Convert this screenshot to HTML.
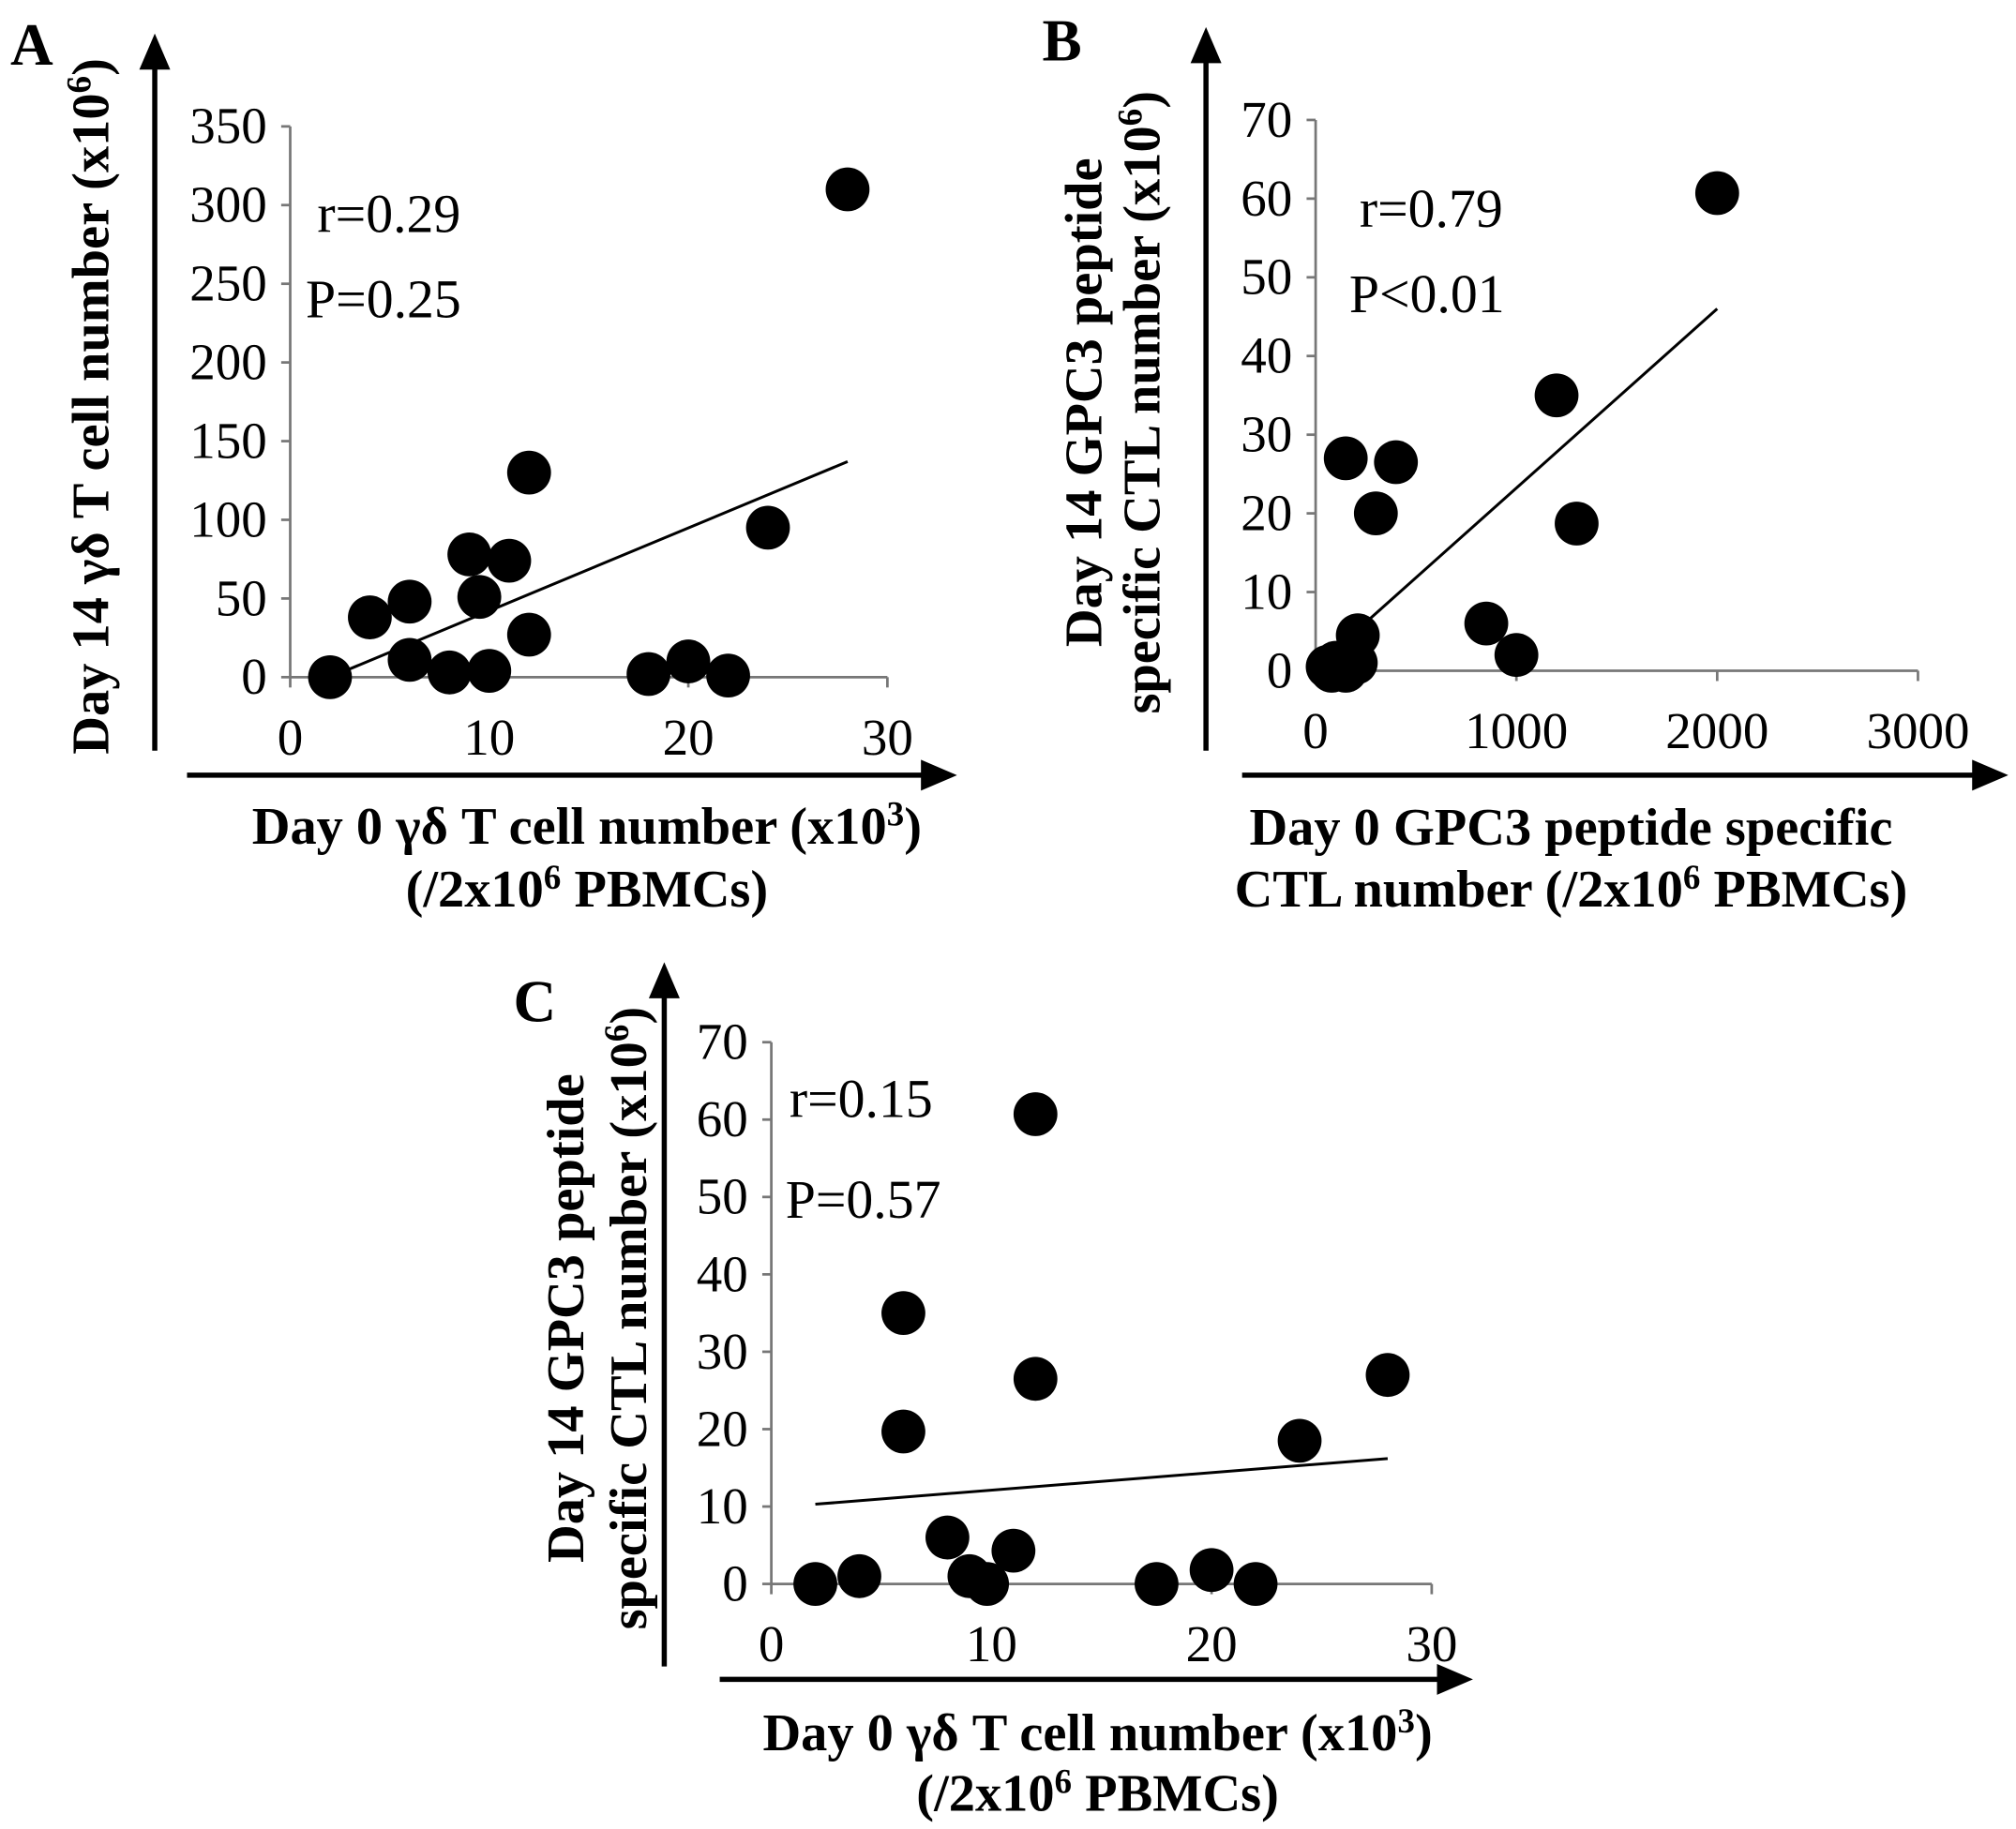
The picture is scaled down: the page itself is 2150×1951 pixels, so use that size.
<!DOCTYPE html>
<html><head><meta charset="utf-8"><style>
html,body{margin:0;padding:0;background:#fff}
svg{display:block}
text{font-family:"Liberation Serif",serif;fill:#000}
.t{font-size:40px}
.s{font-size:42px}
.b{font-size:41px;font-weight:bold}
.sup{font-size:27px}
</style></head><body>
<svg id="fig" width="2150" height="1951" viewBox="0 0 1563 1418" preserveAspectRatio="none" xmlns="http://www.w3.org/2000/svg">
<defs><marker id="ah" markerWidth="7" markerHeight="6" refX="3" refY="3" orient="auto" markerUnits="strokeWidth"><path d="M0,0 L7,3 L0,6 z" fill="#000"/></marker></defs>
</svg>
<script>
// Panel A data
const aX=[2,4,6,6,8,9,9.5,10,11,12,12,18,20,22,24,28];
const aY=[0,38,48,11,3,78,51,4,74,130,27,2,10,1,95,310];
const aFit=[[2,0],[28,137]];
const aYTicks=[0,50,100,150,200,250,300,350];
const aXTicks=[0,10,20,30];
// Panel B data
const bX=[60,80,100,150,200,210,150,300,400,850,1000,1200,1300,2000];
const bY=[0.5,0,1,0,1,4.5,27,20,26.5,6,2,35,18.7,60.7];
const bFit=[[200,5],[2000,46]];
const bYTicks=[0,10,20,30,40,50,60,70];
const bXTicks=[0,1000,2000,3000];
// Panel C data
const cX=[2,4,6,6,8,9,9.8,11,12,12,17.5,20,22,24,28];
const cY=[0,1,35,19.7,6,1,0,4.3,60.7,26.5,0,1.8,0,18.5,27];
const cFit=[[2,10.3],[28,16.2]];
const cYTicks=[0,10,20,30,40,50,60,70];
const cXTicks=[0,10,20,30];

const NS="http://www.w3.org/2000/svg";
const svg=document.getElementById('fig');
function mk(tag,attrs,parent,txt){const e=document.createElementNS(NS,tag);for(const k in attrs)e.setAttribute(k,attrs[k]);if(txt!==undefined)e.textContent=txt;(parent||svg).appendChild(e);return e;}

function panel(p){
  const g=mk('g',{});
  
  
  const sx=v=>p.x0+(v-p.xmin)/(p.xmax-p.xmin)*(p.x1-p.x0);
  const sy=v=>p.y0-(v-p.ymin)/(p.ymax-p.ymin)*(p.y0-p.y1);
  const ya=mk('line',{x1:p.x0,y1:p.y0,x2:p.x0,y2:p.y1,stroke:'#777','stroke-width':2},g);
  
  
  const xa=mk('line',{x1:p.x0,y1:p.y0,x2:p.x1,y2:p.y0,stroke:'#777','stroke-width':2},g);
  
  
  p.yt.forEach(v=>{
    mk('line',{x1:p.x0-7,y1:sy(v),x2:p.x0,y2:sy(v),stroke:'#777','stroke-width':2},g);
    const t=mk('text',{x:p.x0-18,y:sy(v)+13,'text-anchor':'end',class:'t'},g,String(v));
    
    
  });
  p.xt.forEach(v=>{
    mk('line',{x1:sx(v),y1:p.y0,x2:sx(v),y2:p.y0+8,stroke:'#777','stroke-width':2},g);
    const t=mk('text',{x:sx(v),y:p.y0+60,'text-anchor':'middle',class:'t'},g,String(v));
    
    
  });
  const fl=mk('line',{x1:sx(p.fit[0][0]),y1:sy(p.fit[0][1]),x2:sx(p.fit[1][0]),y2:sy(p.fit[1][1]),stroke:'#000','stroke-width':2.2},g);
  
  
  p.xs.forEach((v,i)=>{
    const c=mk('ellipse',{cx:sx(v),cy:sy(p.ys[i]),rx:17,ry:17,fill:'#000'},g);
    
    
  });
  const yar=mk('line',{x1:p.ax,y1:p.ayb,x2:p.ax,y2:p.ayt,stroke:'#000','stroke-width':4,'marker-end':'url(#ah)'},g);
  
  
  const xar=mk('line',{x1:p.bxl,y1:p.by,x2:p.bxr,y2:p.by,stroke:'#000','stroke-width':4,'marker-end':'url(#ah)'},g);
  
  
}
panel({id:'a',x0:225,x1:688,y0:525,y1:98,xmin:0,xmax:30,ymin:0,ymax:350,yt:aYTicks,xt:aXTicks,xs:aX,ys:aY,fit:aFit,ax:120,ayb:582,ayt:42,bxl:145,bxr:726,by:601});
panel({id:'b',x0:1020,x1:1487,y0:520,y1:93,xmin:0,xmax:3000,ymin:0,ymax:70,yt:bYTicks,xt:bXTicks,xs:bX,ys:bY,fit:bFit,ax:935,ayb:582,ayt:37,bxl:963,bxr:1541,by:601});
panel({id:'c',x0:598,x1:1110,y0:1228,y1:808,xmin:0,xmax:30,ymin:0,ymax:70,yt:cYTicks,xt:cXTicks,xs:cX,ys:cY,fit:cFit,ax:515,ayb:1292,ayt:762,bxl:558,bxr:1126,by:1302});
</script>
<svg style="position:absolute;left:0;top:0" width="2150" height="1951" viewBox="0 0 1563 1418" preserveAspectRatio="none" xmlns="http://www.w3.org/2000/svg">
<text x="8" y="50" style="font-size:46px;font-weight:bold">A</text>
<text x="808" y="47" style="font-size:46px;font-weight:bold">B</text>
<text x="398" y="792" style="font-size:46px;font-weight:bold">C</text>

<text x="246" y="180" class="s">r=0.29</text>
<text x="237" y="246" class="s">P=0.25</text>
<text x="1054" y="176" class="s">r=0.79</text>
<text x="1046" y="242" class="s">P&lt;0.01</text>
<text x="612" y="866" class="s">r=0.15</text>
<text x="609" y="944" class="s">P=0.57</text>

<text transform="translate(84,315) rotate(-90)" text-anchor="middle" class="b">Day 14 γδ T cell number (x10<tspan dy="-14" class="sup">6</tspan><tspan dy="14">)</tspan></text>
<text x="455" y="654" text-anchor="middle" class="b">Day 0 γδ T cell number (x10<tspan dy="-14" class="sup">3</tspan><tspan dy="14">)</tspan></text>
<text x="455" y="703" text-anchor="middle" class="b">(/2x10<tspan dy="-14" class="sup">6</tspan><tspan dy="14"> PBMCs)</tspan></text>

<text transform="translate(854,312) rotate(-90)" text-anchor="middle" class="b">Day 14 GPC3 peptide</text>
<text transform="translate(899,312) rotate(-90)" text-anchor="middle" class="b">specific CTL number (x10<tspan dy="-14" class="sup">6</tspan><tspan dy="14">)</tspan></text>
<text x="1218" y="655" text-anchor="middle" class="b">Day 0 GPC3 peptide specific</text>
<text x="1218" y="703" text-anchor="middle" class="b">CTL number (/2x10<tspan dy="-14" class="sup">6</tspan><tspan dy="14"> PBMCs)</tspan></text>

<text transform="translate(452,1022) rotate(-90)" text-anchor="middle" class="b">Day 14 GPC3 peptide</text>
<text transform="translate(501,1022) rotate(-90)" text-anchor="middle" class="b">specific CTL number (x10<tspan dy="-14" class="sup">6</tspan><tspan dy="14">)</tspan></text>
<text x="851" y="1357" text-anchor="middle" class="b">Day 0 γδ T cell number (x10<tspan dy="-14" class="sup">3</tspan><tspan dy="14">)</tspan></text>
<text x="851" y="1404" text-anchor="middle" class="b">(/2x10<tspan dy="-14" class="sup">6</tspan><tspan dy="14"> PBMCs)</tspan></text>
</svg>
</body></html>
